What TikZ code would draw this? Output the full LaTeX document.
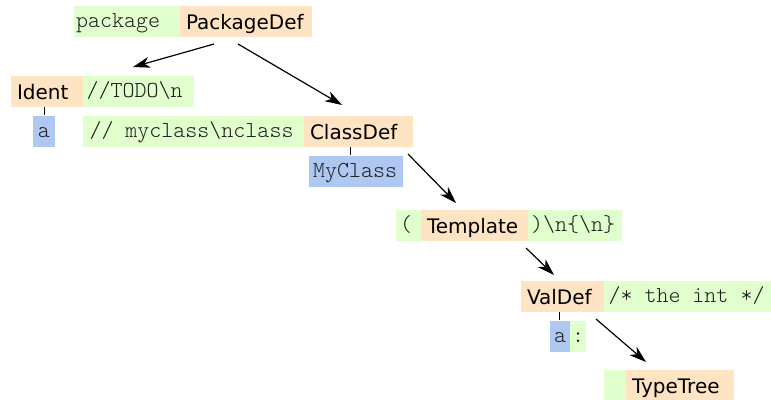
\documentclass[tikz,border=0pt]{standalone}
\usepackage{fontspec}
\setmainfont{DejaVu Sans}
\setmonofont{Latin Modern Mono Light}
\usetikzlibrary{arrows.meta}
\definecolor{kwgreen}{RGB}{224,255,204}
\definecolor{nodeorange}{RGB}{255,228,196}
\definecolor{leafblue}{RGB}{174,200,242}
\definecolor{monogray}{RGB}{30,30,30}
\newcommand{\tsp}{\hbox to 0.525em{}}
\begin{document}
\begin{tikzpicture}[x=1pt,y=-1pt,
  box/.style={anchor=north west, inner xsep=0pt, inner ysep=0pt, outer sep=0pt,
    minimum height=31pt, align=left},
  w/.style={text width=#1pt},
  sans/.style={box, fill=nodeorange, font=\fontsize{20}{24}\selectfont,
    text height=17pt, text depth=2pt},
  mono/.style={box, font=\ttfamily\fontsize{22.86}{26}\selectfont, text=monogray,
    text height=16pt, text depth=5pt},
  kw/.style={mono, fill=kwgreen},
  leaf/.style={mono, fill=leafblue},
  tick/.style={line width=1pt},
  arr/.style={line width=1.2pt, -{Stealth[length=17pt,width=11pt,inset=5pt]}}]
\useasboundingbox (0,0) rectangle (771,399);
% row 1
\node[kw, w=106] (pkgkw) at (74,6) {\hspace*{2pt}package};
\node[sans, w=132] (pkg) at (180,6) {\hspace*{6pt}PackageDef};
% row 2
\node[sans, w=72] (ident) at (11,76) {\hspace*{6pt}Ident};
\node[kw, w=111] (todo) at (83,76) {\hspace*{3.5pt}//TODO\textbackslash n};
% row 3
\node[leaf, w=22, align=center] (ida) at (33,116) {a};
\node[kw, w=221] (mycls) at (83,116) {\hspace*{6.5pt}//\tsp myclass\textbackslash nclass};
\node[sans, w=109] (cls) at (304,116) {\hspace*{6pt}ClassDef};
% row 4
\node[leaf, w=94] (myclass) at (309,156) {\hspace*{4pt}MyClass};
% row 5
\node[kw, w=25] (lpar) at (396,210) {\hspace*{4pt}(};
\node[sans, w=107] (tmpl) at (421,210) {\hspace*{6pt}Template};
\node[kw, w=94] (rpar) at (528,210) {\hspace*{3pt})\textbackslash n\{\textbackslash n\}};
% row 6
\node[sans, w=83] (val) at (521,281) {\hspace*{6pt}ValDef};
\node[kw, w=167] (cmt) at (604,281) {\hspace*{4.5pt}/*\tsp the\tsp int\tsp */};
% row 7
\node[leaf, w=20, align=center] (vala) at (550,321) {a};
\node[kw, w=16, align=center] (colon) at (570,321) {:};
% row 8
\node[kw, w=22] (ttpad) at (604,370) {};
\node[sans, w=108] (tt) at (626,370) {\hspace*{6pt}TypeTree};
% ticks
\draw[tick] (ident.south -| ida.north) -- ++(0,8);
\draw[tick] ([xshift=-6pt]cls.south -| myclass.north) -- ++(0,8);
\draw[tick] ([xshift=-3pt]val.south) -- ++(0,8);
% arrows
\draw[arr] ([xshift=-32pt,yshift=-7pt]pkg.south) -- ([xshift=-5.5pt,yshift=9pt]todo.north);
\draw[arr] ([xshift=-8pt,yshift=-7pt]pkg.south) -- ([xshift=-16.5pt,yshift=11pt]cls.north);
\draw[arr] ([xshift=49.5pt,yshift=-7pt]cls.south) -- ([xshift=-18.5pt,yshift=7pt]tmpl.north);
\draw[arr] ([xshift=51.5pt,yshift=-7pt]tmpl.south) -- ([xshift=-8.5pt,yshift=6pt]val.north);
\draw[arr] ([xshift=33.5pt,yshift=-7pt]val.south) -- ([xshift=-34pt,yshift=8pt]tt.north);
\end{tikzpicture}
\end{document}
